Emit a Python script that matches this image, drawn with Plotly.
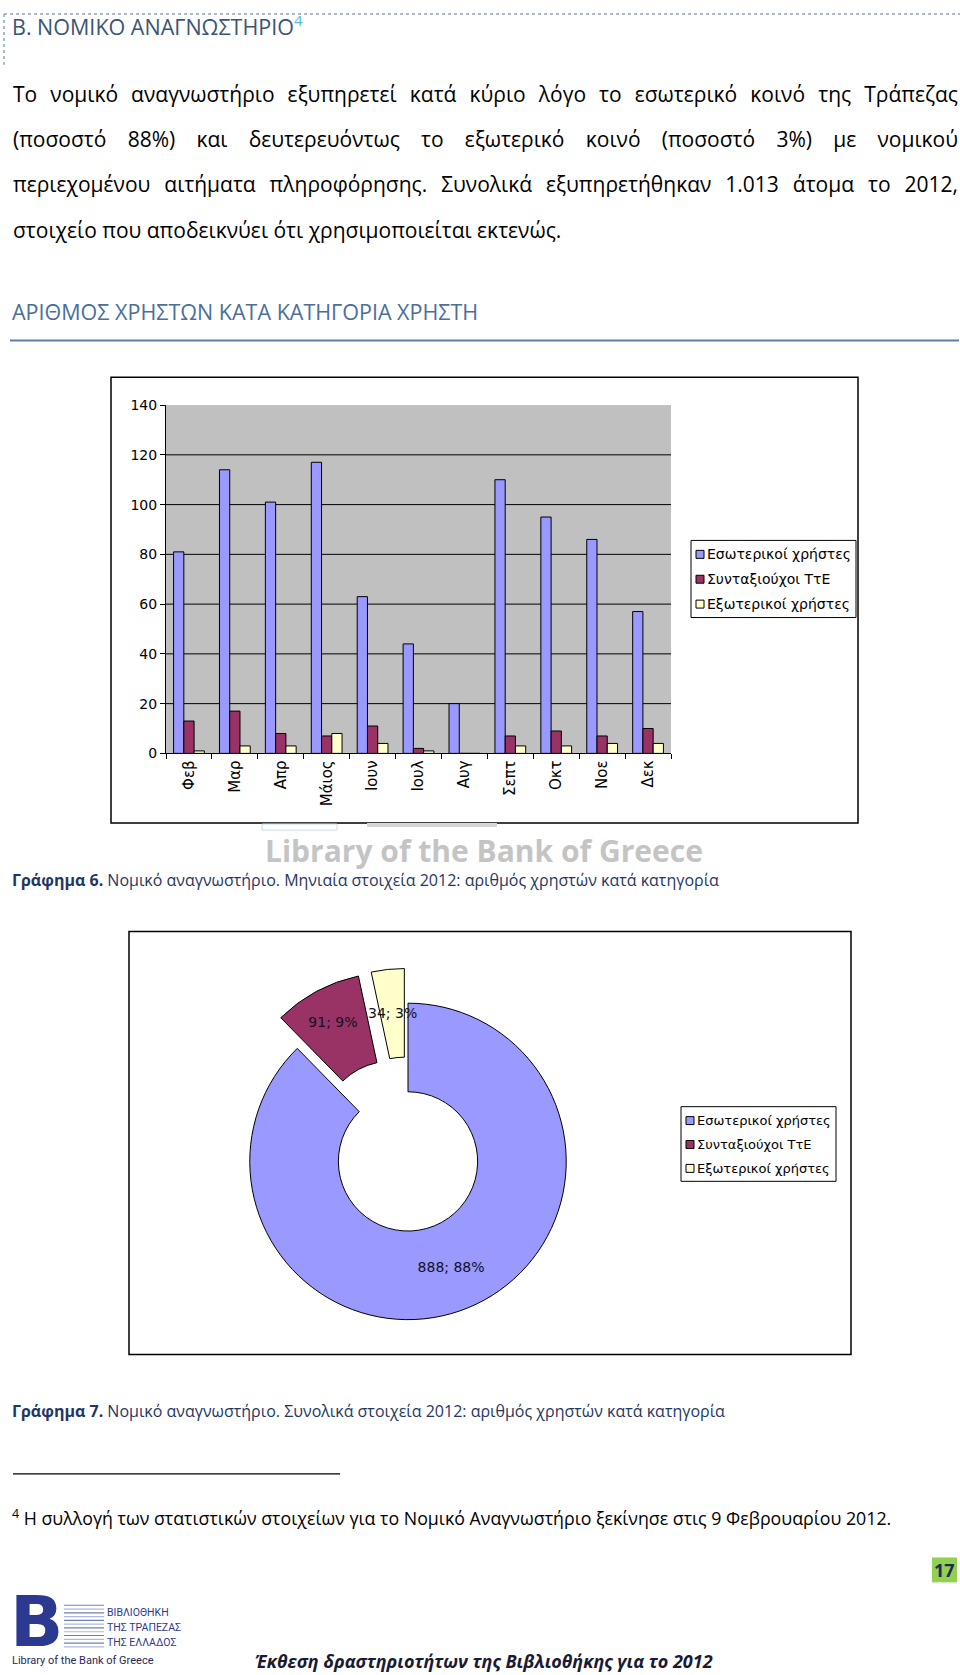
import json
import math
import plotly.graph_objects as go

W, H = 960, 1675

# ---------------- data ----------------
months = ["Φεβ", "Μαρ", "Απρ", "Μάιος", "Ιουν", "Ιουλ", "Αυγ", "Σεπτ", "Οκτ", "Νοε", "Δεκ"]
internal_users = [81, 114, 101, 117, 63, 44, 20, 110, 95, 86, 57]
retired_users = [13, 17, 8, 7, 11, 2, 0, 7, 9, 7, 10]
external_users = [1, 3, 3, 8, 4, 1, 0, 3, 3, 4, 4]
series_names = ["Εσωτερικοί χρήστες", "Συνταξιούχοι ΤτΕ", "Εξωτερικοί χρήστες"]
series_colors = ["#9999FF", "#993366", "#FFFFCC"]
pie_values = [888, 91, 34]
pie_pull = [0, 0.22, 0.22]
y_ticks = [0, 20, 40, 60, 80, 100, 120, 140]

body_lines = [
    "Το νομικό αναγνωστήριο εξυπηρετεί κατά κύριο λόγο το εσωτερικό κοινό της Τράπεζας",
    "(ποσοστό 88%) και δευτερευόντως το εξωτερικό κοινό (ποσοστό 3%) με νομικού",
    "περιεχομένου αιτήματα πληροφόρησης. Συνολικά εξυπηρετήθηκαν 1.013 άτομα το 2012,",
    "στοιχείο που αποδεικνύει ότι χρησιμοποιείται εκτενώς.",
]

# small vertical correction for the page capture
S = 1675 / 1683


def fx(x):
    return x / W


def fy(y):
    return 1 - (y / S) / H


fig = go.Figure()

# ---------------- bar chart ----------------
for name, vals, col in zip(series_names, [internal_users, retired_users, external_users], series_colors):
    fig.add_trace(go.Bar(x=months, y=vals, name=name,
                         marker=dict(color=col, line=dict(color="#000000", width=1)),
                         showlegend=False, xaxis="x", yaxis="y"))

# ---------------- donut ----------------
R = 159
HOLE = 0.44
cx, cy = 408, 1159
half = R * (1 + max(pie_pull))
tmpl = "%{value}; %{percent:.0%}"
fig.add_trace(go.Pie(
    labels=series_names, values=pie_values, pull=pie_pull, hole=HOLE,
    sort=False, direction="clockwise", rotation=0,
    marker=dict(colors=series_colors, line=dict(color="#000000", width=1)),
    texttemplate=[tmpl, tmpl, ""], textposition="inside",
    insidetextorientation="horizontal",
    textfont=dict(family="DejaVu Sans", size=14, color="#111122"),
    domain=dict(x=[fx(cx - half), fx(cx + half)], y=[fy(cy + half), fy(cy - half)]),
    showlegend=False,
))

shapes = []
ann = []

# label of the small (yellow) slice, placed at its mid angle in the ring
total = sum(pie_values)
start = sum(pie_values[:2]) / total
mid = (start + pie_values[2] / total / 2) * 2 * math.pi
rr = R * (1 + HOLE) / 2 + pie_pull[2] * R
ann.append(dict(text=f"{pie_values[2]}; {round(100 * pie_values[2] / total)}%",
                x=fx(cx + rr * math.sin(mid)), y=fy(cy - rr * math.cos(mid)),
                xanchor="center", yanchor="middle",
                font=dict(family="DejaVu Sans", size=14, color="#111122")))

# gridlines (not at 0 / top)
for v in y_ticks[1:-1]:
    shapes.append(dict(type="line", xref="x domain", yref="y", x0=0, x1=1, y0=v, y1=v,
                       line=dict(color="#000000", width=1), layer="below"))

# chart frames
shapes.append(dict(type="rect", xref="paper", yref="paper", x0=fx(111), x1=fx(858), y0=fy(819), y1=fy(371),
                   line=dict(color="#000000", width=1.5)))
shapes.append(dict(type="rect", xref="paper", yref="paper", x0=fx(129), x1=fx(851), y0=fy(1353), y1=fy(928),
                   line=dict(color="#000000", width=1.5)))


def legend(x0, x1, y0, row_ys, fsize):
    y1 = row_ys[-1] + (row_ys[1] - row_ys[0]) / 2 + 1
    shapes.append(dict(type="rect", xref="paper", yref="paper", x0=fx(x0), x1=fx(x1), y0=fy(y1), y1=fy(y0),
                       line=dict(color="#000000", width=1), fillcolor="#FFFFFF", layer="below"))
    for name, col, ry in zip(series_names, series_colors, row_ys):
        shapes.append(dict(type="rect", xref="paper", yref="paper", x0=fx(x0 + 5), x1=fx(x0 + 13),
                           y0=fy(ry + 4), y1=fy(ry - 4), line=dict(color="#000000", width=1), fillcolor=col))
        ann.append(dict(text=name, x=fx(x0 + 15), y=fy(ry), xanchor="left", yanchor="middle",
                        font=dict(family="DejaVu Sans", size=fsize, color="#000000")))


legend(691, 856, 535, [549, 574, 599], 14)
legend(681, 836, 1104, [1118, 1142, 1166], 13)

# ---------------- page text ----------------
BODY = "Open Sans"
shapes.append(dict(type="line", xref="paper", yref="paper", x0=fx(4), x1=fx(960), y0=fy(6), y1=fy(6),
                   line=dict(color="#8EA2BE", width=1.5, dash="dot")))
shapes.append(dict(type="line", xref="paper", yref="paper", x0=fx(4), x1=fx(4), y0=fy(6), y1=fy(57),
                   line=dict(color="#8EA2BE", width=1.5, dash="dot")))
ann.append(dict(text="Β. ΝΟΜΙΚΟ ΑΝΑΓΝΩΣΤΗΡΙΟ<sup><span style='color:#5BB5D0'>4</span></sup>",
                x=fx(11), y=fy(18), xanchor="left", yanchor="middle",
                font=dict(family=BODY, size=21.5, color="#3B5574")))

FS = 21
L, Rr = 12, 957
body_ys = [86, 132, 177, 223]
justify = {}
for k, (line, yy) in enumerate(zip(body_lines, body_ys)):
    ann.append(dict(text=line, x=fx(L), y=fy(yy), xanchor="left", yanchor="middle",
                    font=dict(family=BODY, size=FS, color="#000000")))
    if k < len(body_lines) - 1:
        justify[line] = Rr - L

ann.append(dict(text="ΑΡΙΘΜΟΣ ΧΡΗΣΤΩΝ ΚΑΤΑ ΚΑΤΗΓΟΡΙΑ ΧΡΗΣΤΗ", x=fx(11), y=fy(305), xanchor="left",
                yanchor="middle", font=dict(family=BODY, size=21.5, color="#4B6E9B")))
shapes.append(dict(type="line", xref="paper", yref="paper", x0=fx(10), x1=fx(959), y0=fy(334), y1=fy(334),
                   line=dict(color="#5B7FAF", width=2)))

# watermark under bar chart
shapes.append(dict(type="rect", xref="paper", yref="paper", x0=fx(262), x1=fx(337), y0=fy(826), y1=fy(820),
                   line=dict(color="#C9DCEB", width=1)))
shapes.append(dict(type="rect", xref="paper", yref="paper", x0=fx(367), x1=fx(497), y0=fy(823), y1=fy(819),
                   line=dict(width=0), fillcolor="#D6D6D6"))
ann.append(dict(text="<b>Library of the Bank of Greece</b>", x=fx(484), y=fy(847), xanchor="center",
                yanchor="middle", font=dict(family=BODY, size=30, color="#C4C4C4")))

CAP = "#1F3763"
ann.append(dict(text="<b>Γράφημα 6.</b> Νομικό αναγνωστήριο. Μηνιαία στοιχεία 2012: αριθμός χρηστών κατά κατηγορία",
                x=fx(11), y=fy(876), xanchor="left", yanchor="middle", font=dict(family=BODY, size=16, color=CAP)))
ann.append(dict(text="<b>Γράφημα 7.</b> Νομικό αναγνωστήριο. Συνολικά στοιχεία 2012: αριθμός χρηστών κατά κατηγορία",
                x=fx(11), y=fy(1410), xanchor="left", yanchor="middle", font=dict(family=BODY, size=16, color=CAP)))

# footnote
shapes.append(dict(type="line", xref="paper", yref="paper", x0=fx(13), x1=fx(340), y0=fy(1473), y1=fy(1473),
                   line=dict(color="#000000", width=1.2)))
ann.append(dict(text="<sup>4</sup> Η συλλογή των στατιστικών στοιχείων για το Νομικό Αναγνωστήριο ξεκίνησε στις 9 Φεβρουαρίου 2012.",
                x=fx(11), y=fy(1517), xanchor="left", yanchor="middle", font=dict(family=BODY, size=17.8, color="#000000")))

# page number
shapes.append(dict(type="rect", xref="paper", yref="paper", x0=fx(932), x1=fx(957), y0=fy(1582), y1=fy(1557),
                   line=dict(width=0), fillcolor="#92D050"))
ann.append(dict(text="<b>17</b>", x=fx(944.5), y=fy(1569.5), xanchor="center", yanchor="middle",
                font=dict(family=BODY, size=18, color="#1F2A55")))

# logo
ann.append(dict(text="<b>B</b>", x=fx(9), y=fy(1622), xanchor="left", yanchor="middle",
                font=dict(family="DejaVu Sans", size=70, color="#2B3990")))
for i in range(12):
    yy = 1605 + i * 3.8
    shapes.append(dict(type="line", xref="paper", yref="paper", x0=fx(64), x1=fx(104), y0=fy(yy), y1=fy(yy),
                       line=dict(color="#6E7FC0" if i % 2 == 0 else "#AEB8E0", width=1.2)))
for txt, yy in zip(["ΒΙΒΛΙΟΘΗΚΗ", "ΤΗΣ ΤΡΑΠΕΖΑΣ", "ΤΗΣ ΕΛΛΑΔΟΣ"], [1612, 1627, 1642]):
    ann.append(dict(text=txt, x=fx(106), y=fy(yy), xanchor="left", yanchor="middle",
                    font=dict(family="Roboto", size=10.5, color="#2B3990")))
ann.append(dict(text="Library of the Bank of Greece", x=fx(11), y=fy(1661), xanchor="left", yanchor="middle",
                font=dict(family="Roboto", size=11, color="#1F2A55")))
ann.append(dict(text="<b><i>Έκθεση δραστηριοτήτων της Βιβλιοθήκης για το 2012</i></b>", x=fx(484), y=fy(1661),
                xanchor="center", yanchor="middle", font=dict(family=BODY, size=18, color="#1A1A33")))

for a in ann:
    a.setdefault("showarrow", False)
    a.setdefault("xref", "paper")
    a.setdefault("yref", "paper")
    a.setdefault("borderpad", 0)

fig.update_layout(
    width=W, height=H, margin=dict(l=0, r=0, t=0, b=0),
    paper_bgcolor="#FFFFFF", plot_bgcolor="#C0C0C0",
    barmode="group", bargap=0.33, bargroupgap=0,
    uniformtext=dict(minsize=14, mode="show"),
    xaxis=dict(domain=[fx(166), fx(671)], type="category", tickson="boundaries", ticks="outside", ticklen=5,
               tickcolor="#000000", showline=True, linecolor="#000000", linewidth=1, tickangle=-90,
               tickfont=dict(family="DejaVu Sans", size=15, color="#000000"), showgrid=False, fixedrange=True),
    yaxis=dict(domain=[fy(749), fy(399)], range=[0, 140], tickvals=y_ticks, ticks="outside", ticklen=5,
               tickcolor="#000000", showline=True, linecolor="#000000", linewidth=1, showgrid=False,
               zeroline=False, tickfont=dict(family="DejaVu Sans", size=14, color="#000000"), fixedrange=True),
    shapes=shapes, annotations=ann, showlegend=False,
)

post = """
(function(){
  var targets = %s;
  function css(){
    [document.documentElement, document.body].forEach(function(e){
      e.style.margin = '0'; e.style.padding = '0';
      e.style.height = '1675px'; e.style.overflow = 'hidden';
    });
  }
  function run(){
    css();
    var els = document.querySelectorAll('text.annotation-text');
    els.forEach(function(el){
      var t = el.textContent;
      if(!(t in targets)) return;
      if(!el.hasAttribute('data-x0')){
        el.style.wordSpacing = '0px';
        var w = el.getComputedTextLength();
        var x = parseFloat(el.getAttribute('x'));
        var anc = el.getAttribute('text-anchor');
        var left = anc === 'middle' ? x - w / 2 : (anc === 'end' ? x - w : x);
        el.setAttribute('data-x0', left);
        el.setAttribute('data-w', w);
      }
      var l = parseFloat(el.getAttribute('data-x0'));
      var ww = parseFloat(el.getAttribute('data-w'));
      var n = (t.match(/ /g) || []).length;
      el.setAttribute('text-anchor', 'start');
      el.setAttribute('x', l);
      el.querySelectorAll('tspan[x]').forEach(function(ts){ ts.setAttribute('x', l); });
      if(n > 0) el.style.wordSpacing = ((targets[t] - ww) / n) + 'px';
    });
  }
  css();
  run();
  var gd = document.getElementById('{plot_id}');
  if(gd && gd.on) gd.on('plotly_afterplot', run);
  setTimeout(run, 50);
})();
""" % json.dumps(justify)

fig.write_html("out.html", post_script=post, config={"displayModeBar": False})
